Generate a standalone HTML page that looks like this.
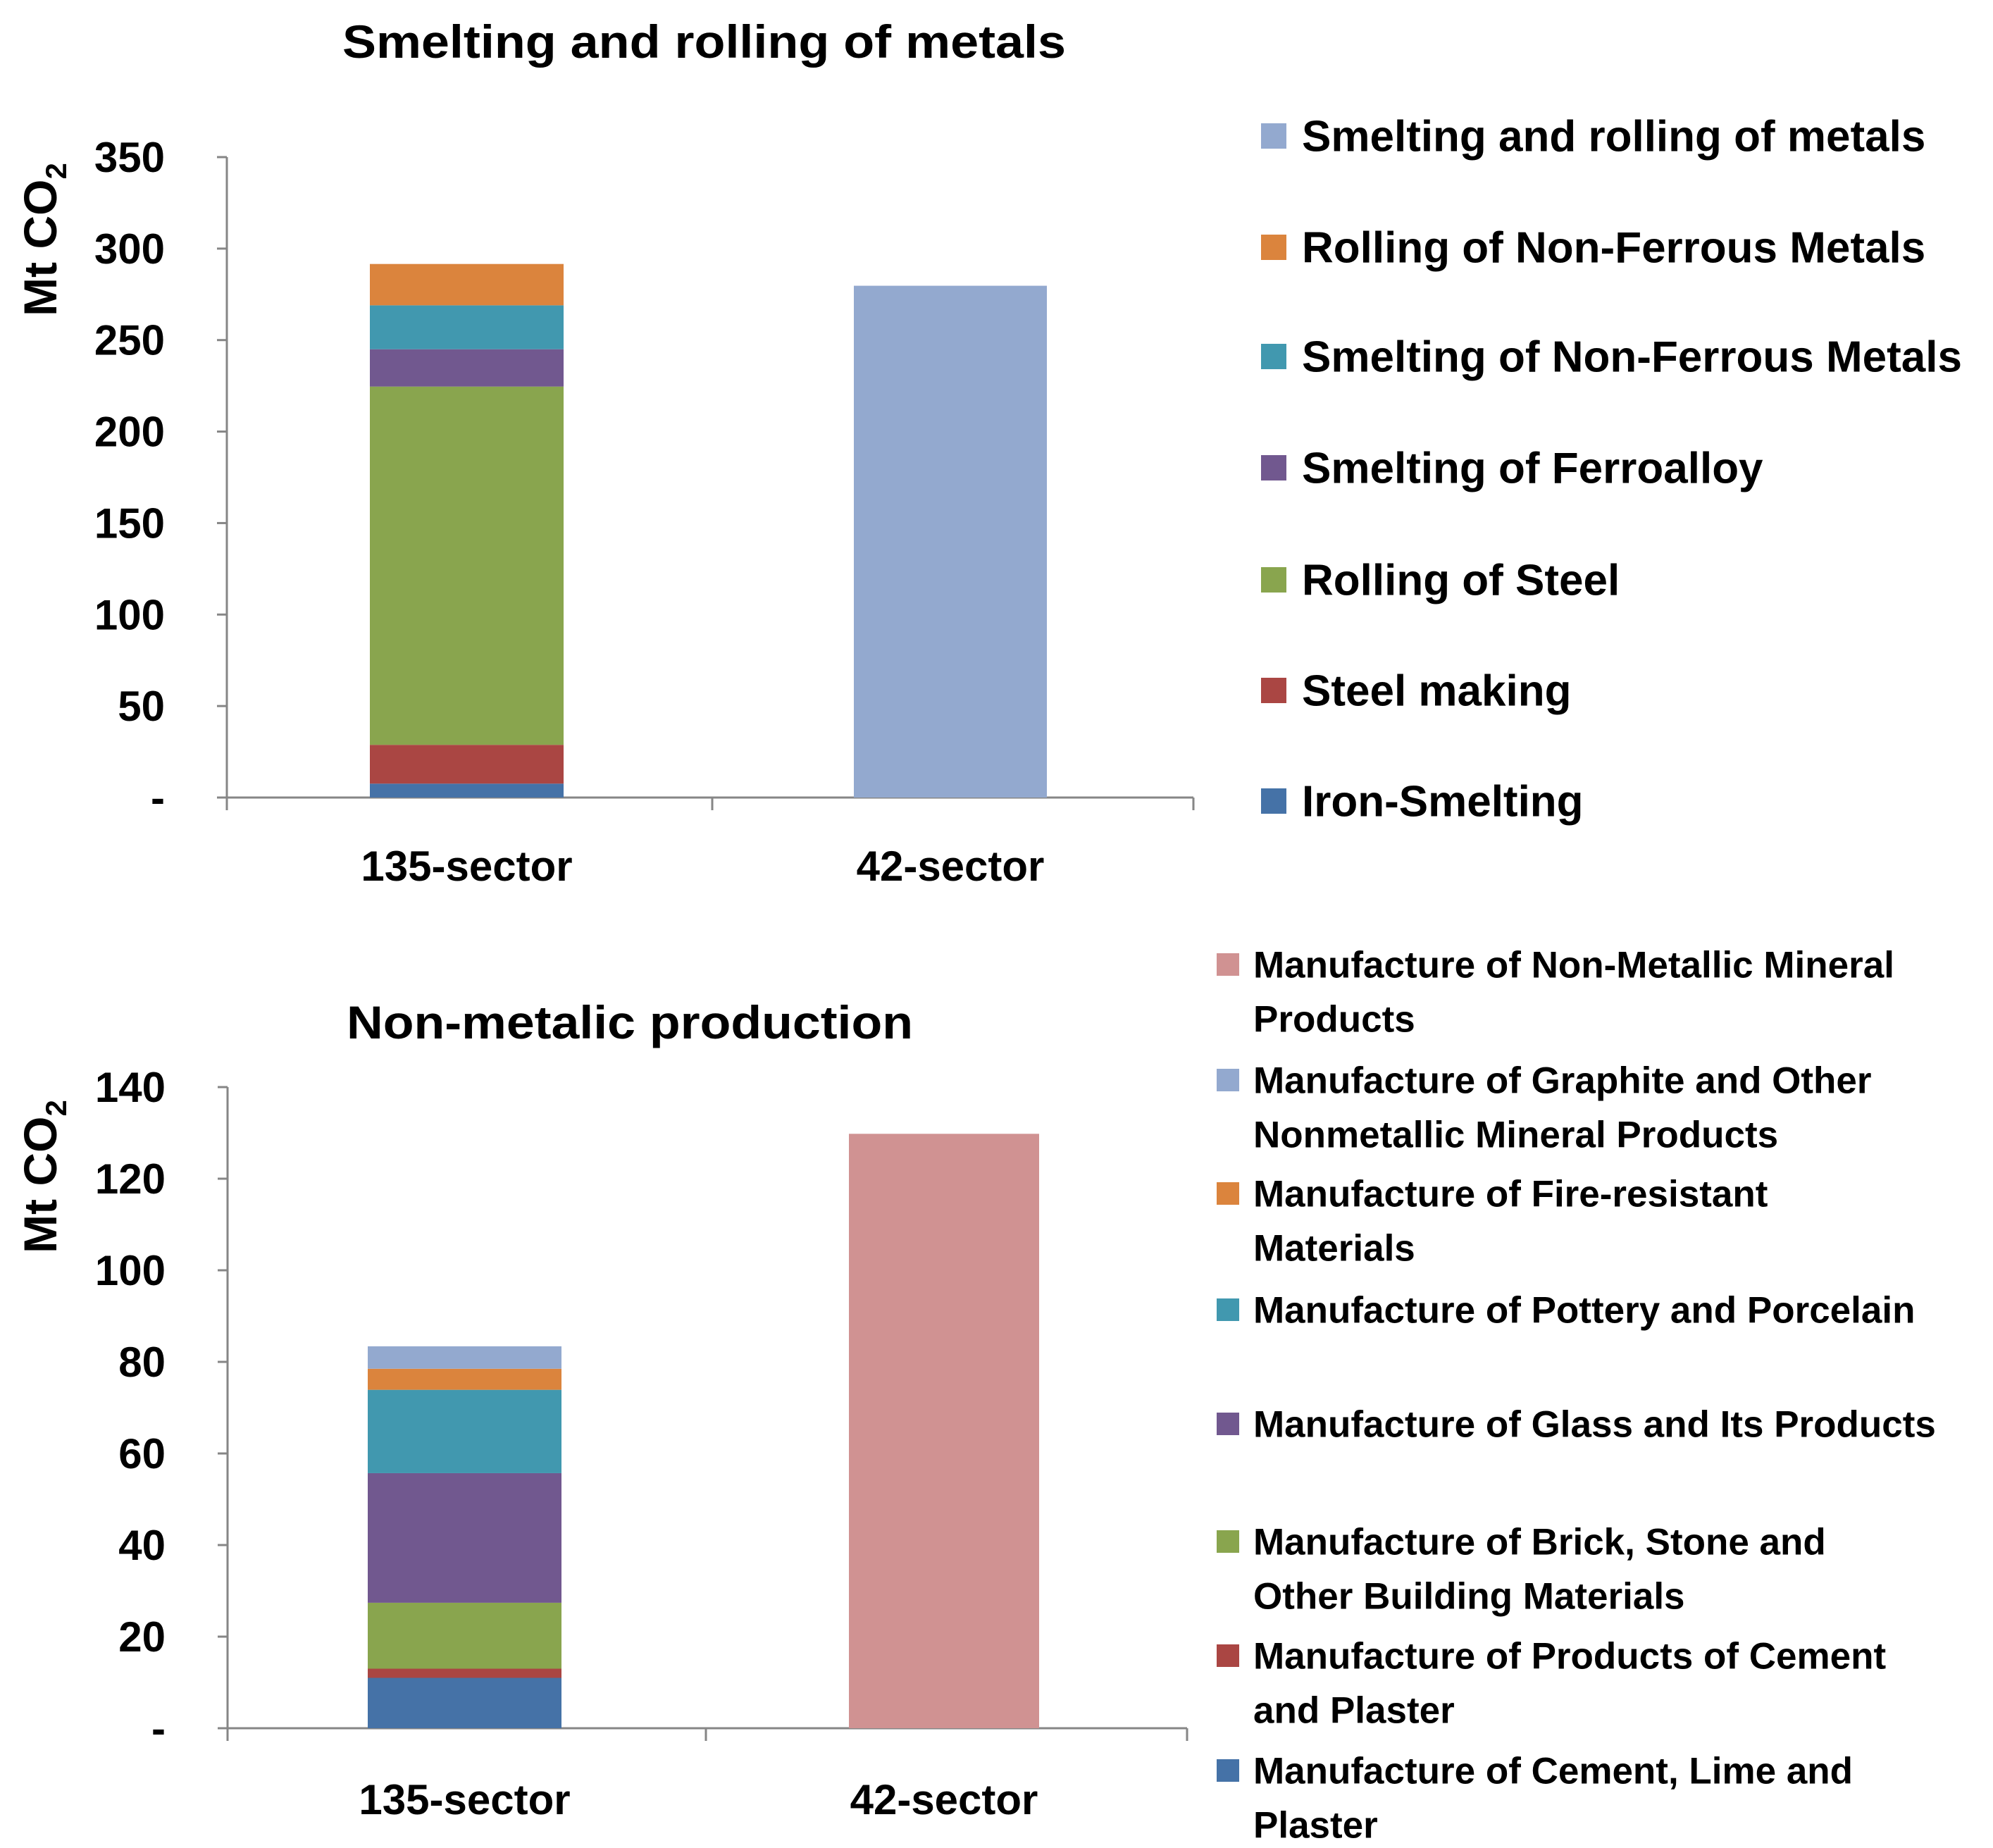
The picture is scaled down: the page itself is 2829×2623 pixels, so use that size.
<!DOCTYPE html>
<html><head><meta charset="utf-8">
<style>
html,body{margin:0;padding:0;background:#fff;}
svg{display:block;}
text{font-family:"Liberation Sans",sans-serif;font-weight:bold;fill:#000;}
</style></head>
<body>
<svg id="root" xmlns="http://www.w3.org/2000/svg" width="2829" height="2623" viewBox="0 0 2829 2623"></svg>
<script>
// ---- Chart 1 data ----
const cats1 = ["135-sector", "42-sector"];
const series1 = ["Iron-Smelting","Steel making","Rolling of Steel","Smelting of Ferroalloy","Smelting of Non-Ferrous Metals","Rolling of Non-Ferrous Metals","Smelting and rolling of metals"];
const stack1 = [7.6, 21.2, 195.8, 20.4, 24, 22.6];
const single1 = [279.7];
const colors1 = ["#4572A7","#AA4643","#89A54E","#71588F","#4198AF","#DB843D","#93A9CF"];
const ticks1 = [0,50,100,150,200,250,300,350];
const tickLabels1 = ["-","50","100","150","200","250","300","350"];
// ---- Chart 2 data ----
const cats2 = ["135-sector", "42-sector"];
const series2 = ["Manufacture of Cement, Lime and Plaster","Manufacture of Products of Cement and Plaster","Manufacture of Brick, Stone and Other Building Materials","Manufacture of Glass and Its Products","Manufacture of Pottery and Porcelain","Manufacture of Fire-resistant Materials","Manufacture of Graphite and Other Nonmetallic Mineral Products","Manufacture of Non-Metallic Mineral Products"];
const stack2 = [11, 2, 14.4, 28.3, 18.2, 4.6, 4.9];
const single2 = [129.8];
const colors2 = ["#4572A7","#AA4643","#89A54E","#71588F","#4198AF","#DB843D","#93A9CF","#D09292"];
const ticks2 = [0,20,40,60,80,100,120,140];
const tickLabels2 = ["-","20","40","60","80","100","120","140"];

const NS="http://www.w3.org/2000/svg";
const root=document.getElementById('root');
function mk(tag,attrs,parent){const e=document.createElementNS(NS,tag);for(const k in attrs)e.setAttribute(k,attrs[k]);(parent||root).appendChild(e);return e;}
function txt(s,attrs,parent){const e=mk('text',attrs,parent);e.textContent=s;return e;}

function chart(cfg){
  const g=mk('g',{});
  
  
  const y=v=>cfg.y0-(v/cfg.max)*(cfg.y0-cfg.yTop);
  const t=txt(cfg.title,{x:cfg.titleX,y:cfg.titleY,'font-size':66,textLength:cfg.titleW,lengthAdjust:'spacingAndGlyphs'},g);
  
  
  const yt=mk('text',{transform:`translate(${cfg.ytX},${cfg.ytY}) rotate(-90)`,'font-size':66,'text-anchor':'middle'},g);
  
  
  yt.innerHTML='Mt CO<tspan font-size="42" dy="14">2</tspan>';
  const ax=mk('g',{stroke:'#868686','stroke-width':3},g);
  
  
  mk('line',{x1:cfg.ax,y1:cfg.yTop,x2:cfg.ax,y2:cfg.y0},ax);
  mk('line',{x1:cfg.ax,y1:cfg.y0,x2:cfg.axEnd,y2:cfg.y0},ax);
  [cfg.ax,cfg.div,cfg.axEnd].forEach(x=>mk('line',{x1:x,y1:cfg.y0,x2:x,y2:cfg.y0+18},ax));
  cfg.ticks.forEach((v,i)=>{
    mk('line',{x1:cfg.ax-14,y1:y(v),x2:cfg.ax,y2:y(v)},ax);
    const l=txt(cfg.tickLabels[i],{x:cfg.ax-88,y:y(v)+21,'font-size':60,'text-anchor':'end'},g);
    
    
  });
  let acc=0;
  cfg.stack.forEach((v,i)=>{
    const r=mk('rect',{x:cfg.b1[0],y:y(acc+v),width:cfg.b1[1]-cfg.b1[0],height:y(acc)-y(acc+v),fill:cfg.colors[i]},g);
    
    
    acc+=v;
  });
  const r2=mk('rect',{x:cfg.b2[0],y:y(cfg.single[0]),width:cfg.b2[1]-cfg.b2[0],height:cfg.y0-y(cfg.single[0]),fill:cfg.colors[cfg.colors.length-1]},g);
  
  
  cfg.cats.forEach((c,i)=>{
    const b=i===0?cfg.b1:cfg.b2;
    const l=txt(c,{x:(b[0]+b[1])/2,y:cfg.catY,'font-size':60,'text-anchor':'middle'},g);
    
    
  });
  cfg.legend.forEach(L=>{
    const lg=mk('g',{},g);
    
    
    mk('rect',{x:cfg.lgX,y:L.y-cfg.sq/2,width:cfg.sq,height:cfg.sq,fill:cfg.colors[L.i]},lg);
    L.lines.forEach((s,k)=>{
      const a={x:cfg.lgTX,y:L.y+cfg.lgFont*0.35+k*cfg.lineH,'font-size':cfg.lgFont};
      txt(s,a,lg);
    });
  });
}

chart({name:'chart-metals',title:'Smelting and rolling of metals',titleX:486,titleY:82,titleW:1027,
  ytX:80,ytY:340,ax:322,axEnd:1694,div:1011,y0:1132,yTop:223,max:350,
  ticks:ticks1,tickLabels:tickLabels1,stack:stack1,single:single1,colors:colors1,cats:cats1,
  b1:[525,800],b2:[1212,1486],catY:1250,lgX:1790,lgTX:1848,sq:36,lgFont:62,lineH:0,
  legend:[
    {i:6,y:193,lines:[series1[6]]},
    {i:5,y:351,lines:[series1[5]]},
    {i:4,y:506,lines:[series1[4]]},
    {i:3,y:664,lines:[series1[3]]},
    {i:2,y:823,lines:[series1[2]]},
    {i:1,y:980,lines:[series1[1]]},
    {i:0,y:1137,lines:[series1[0]]}]});

chart({name:'chart-nonmetallic',title:'Non-metalic production',titleX:492,titleY:1474,titleW:804,
  ytX:80,ytY:1670,ax:323,axEnd:1685,div:1002,y0:2453,yTop:1543,max:140,
  ticks:ticks2,tickLabels:tickLabels2,stack:stack2,single:single2,colors:colors2,cats:cats2,
  b1:[522,797],b2:[1205,1475],catY:2575,lgX:1727,lgTX:1779,sq:32,lgFont:53,lineH:77,
  legend:[
    {i:7,y:1369,lines:["Manufacture of Non-Metallic Mineral","Products"]},
    {i:6,y:1533,lines:["Manufacture of Graphite and Other","Nonmetallic Mineral Products"]},
    {i:5,y:1694,lines:["Manufacture of Fire-resistant","Materials"]},
    {i:4,y:1859,lines:["Manufacture of Pottery and Porcelain"]},
    {i:3,y:2021,lines:["Manufacture of Glass and Its Products"]},
    {i:2,y:2188,lines:["Manufacture of Brick, Stone and","Other Building Materials"]},
    {i:1,y:2350,lines:["Manufacture of Products of Cement","and Plaster"]},
    {i:0,y:2513,lines:["Manufacture of Cement, Lime and","Plaster"]}]});
</script>
</body></html>
